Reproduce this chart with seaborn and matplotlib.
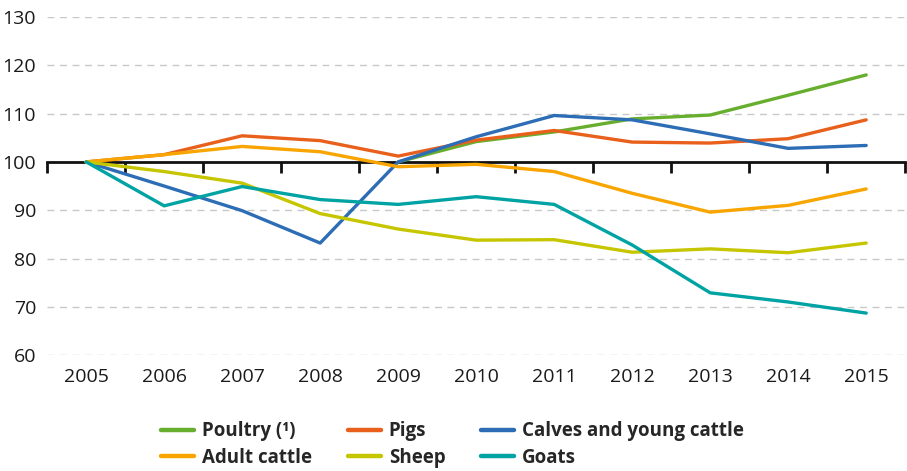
import numpy as np
import pandas as pd
import seaborn as sns
import matplotlib.pyplot as plt

years = [2005, 2006, 2007, 2008, 2009, 2010, 2011, 2012, 2013, 2014, 2015]
poultry = [np.nan, np.nan, np.nan, np.nan, 100.0, 104.2, 106.2, 108.9, 109.7, 113.8, 118.0]
pigs = [100.0, 101.5, 105.4, 104.4, 101.2, 104.5, 106.5, 104.1, 103.9, 104.8, 108.7]
calves = [100.0, 95.0, 89.9, 83.2, 100.0, 105.2, 109.6, 108.7, 105.8, 102.8, 103.4]
adult_cattle = [100.0, 101.5, 103.2, 102.1, 99.0, 99.5, 98.0, 93.5, 89.6, 91.0, 94.4]
sheep = [100.0, 98.0, 95.6, 89.3, 86.1, 83.8, 83.9, 81.3, 82.0, 81.2, 83.2]
goats = [100.0, 90.9, 94.9, 92.2, 91.2, 92.8, 91.2, 82.8, 72.9, 71.0, 68.7]

series_names = ["Poultry (¹)", "Pigs", "Calves and young cattle",
                "Adult cattle", "Sheep", "Goats"]
series_values = [poultry, pigs, calves, adult_cattle, sheep, goats]
colors = ["#67ae2e", "#e8601c", "#2d6db5", "#f8a500", "#c6c600", "#00a3a3"]
y_ticks = [60, 70, 80, 90, 100, 110, 120, 130]

rows = []
for name, vals in zip(series_names, series_values):
    for i, (yr, v) in enumerate(zip(years, vals)):
        rows.append({"pos": i, "year": yr, "series": name, "value": v})
df = pd.DataFrame(rows).dropna()

sns.set_style("white")
plt.rcParams["font.family"] = ["Open Sans", "DejaVu Sans"]

fig = plt.figure(figsize=(9.07, 4.71), dpi=100)
ax = fig.add_axes([0.052, 0.246, 0.946, 0.718])

sns.lineplot(data=df, x="pos", y="value", hue="series", hue_order=series_names,
             palette=dict(zip(series_names, colors)), linewidth=2.4,
             estimator=None, sort=False, ax=ax, legend=True)

n = len(years)
ax.set_xlim(-0.5, n - 0.5)
ax.set_ylim(60, 130)
ax.set_yticks(y_ticks)
ax.set_yticklabels([str(t) for t in y_ticks])
ax.set_xticks(range(n))
ax.set_xticklabels([str(y) for y in years])
ax.tick_params(axis="both", length=0, labelsize=14, colors="#1a1a1a")
ax.tick_params(axis="y", pad=8)
ax.tick_params(axis="x", pad=9)
ax.set_xlabel("")
ax.set_ylabel("")
for s in ax.spines.values():
    s.set_visible(False)

# dashed gridlines (except at 100, where the axis line sits)
for t in y_ticks:
    if t != 100:
        ax.axhline(t, color="#c8c8c8", lw=1.0, ls=(0, (5, 4)), zorder=0)

# category axis line at 100 with ticks at category boundaries
ax2 = ax.twiny()
ax2.set_xlim(ax.get_xlim())
for k in ["top", "left", "right"]:
    ax2.spines[k].set_visible(False)
ax2.spines["bottom"].set_visible(True)
ax2.spines["bottom"].set_position(("data", 100))
ax2.spines["bottom"].set_linewidth(2.0)
ax2.spines["bottom"].set_color("#111111")
ax2.xaxis.set_ticks_position("bottom")
ax2.set_xticks(np.arange(-0.5, n, 1.0))
ax2.set_xticklabels([])
ax2.tick_params(axis="x", direction="out", length=8, width=2.0, color="#111111")
ax2.set_zorder(0)
ax.set_zorder(1)
ax.patch.set_visible(False)

handles, labels = ax.get_legend_handles_labels()
ax.get_legend().remove()
order = [0, 3, 1, 4, 2, 5]
leg = fig.legend([handles[i] for i in order], [labels[i] for i in order],
                 loc="center", bbox_to_anchor=(0.499, 0.056), ncol=3, frameon=False,
                 prop={"weight": "bold", "size": 13.5}, handlelength=1.76,
                 handletextpad=0.43, columnspacing=1.9, labelspacing=0.34)
for h in leg.get_lines():
    h.set_linewidth(3.2)

fig.savefig("out.png", dpi=100)
